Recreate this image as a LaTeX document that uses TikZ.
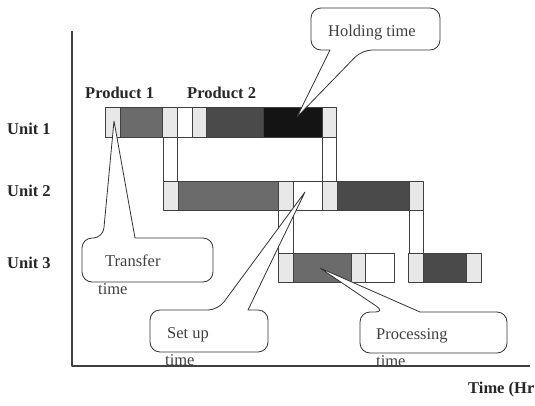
\documentclass[tikz,border=0pt]{standalone}
\usepackage{fontspec}
\setmainfont{Liberation Serif}
\usepackage{xcolor}

\begin{document}
\begin{tikzpicture}[x=1pt,y=-1pt,line join=round,
  seg/.style={draw=black!75,line width=0.8pt},
  lt/.style={seg,fill=black!9},
  pone/.style={seg,fill=black!58},
  ptwo/.style={seg,fill=black!71},
  hold/.style={seg,fill=black!92},
  idle/.style={seg,fill=white},
  bubble/.style={draw=black!80,line width=0.8pt,fill=white},
  unitlbl/.style={font=\fontsize{16.5}{18}\selectfont\bfseries,text=black!85,inner sep=0pt,anchor=base west},
  note/.style={font=\fontsize{16.5}{18}\selectfont,text=black!75,inner sep=0pt,anchor=base west}]
\useasboundingbox (0,0) rectangle (535,405);
% axes
\coordinate (ytop) at (72,31);
\coordinate (O) at (72,366);
\coordinate (xend) at (530,366);
\draw[line width=1.4pt,black!75] (ytop) -- (O) -- (xend);
% unit 1
\filldraw[lt] (105,107) rectangle (120,137);
\filldraw[pone] (120,107) rectangle (162,137);
\filldraw[lt] (162,107) rectangle (177,137);
\filldraw[idle] (177,107) rectangle (192,137);
\filldraw[lt] (192,107) rectangle (206,137);
\filldraw[ptwo] (206,107) rectangle (263,137);
\filldraw[hold] (263,107) rectangle (322,137);
\filldraw[lt] (322,107) rectangle (336,137);
% unit 2
\filldraw[lt] (163,181) rectangle (178,210);
\filldraw[pone] (178,181) rectangle (278,210);
\filldraw[lt] (278,181) rectangle (293,210);
\filldraw[idle] (293,181) rectangle (322,210);
\filldraw[lt] (322,181) rectangle (337,210);
\filldraw[ptwo] (337,181) rectangle (409,210);
\filldraw[lt] (409,181) rectangle (423,210);
% unit 3
\filldraw[lt] (278,253) rectangle (293,282);
\filldraw[pone] (293,253) rectangle (351,282);
\filldraw[lt] (351,253) rectangle (365,282);
\filldraw[idle] (365,253) rectangle (394,282);
\filldraw[lt] (408,253) rectangle (423,282);
\filldraw[ptwo] (423,253) rectangle (466,282);
\filldraw[lt] (466,253) rectangle (481,282);
% transfers between units
\draw[seg] (163,137) -- (163,181);
\draw[seg] (177,137) -- (177,181);
\draw[seg] (322,137) -- (322,181);
\draw[seg] (336,137) -- (336,181);
\draw[seg] (278,210) -- (278,253);
\draw[seg] (293,210) -- (293,253);
\draw[seg] (409,210) -- (409,253);
\draw[seg] (423,210) -- (423,253);
% callouts
\coordinate (holdtip) at (297,117);
\coordinate (transtip) at (114,121);
\coordinate (setuptip) at (305,192);
\coordinate (proctip) at (320,268);
\draw[bubble] (330,50) [rounded corners=10pt] -- (311,50) -- (311,8) -- (440,8) -- (440,50) -- (362,50) [sharp corners] -- (holdtip) -- cycle;
\draw[bubble] (135,238) [rounded corners=10pt] -- (213,238) -- (213,282) -- (82,282) -- (82,238) -- (103,238) [sharp corners] -- (transtip) -- cycle;
\draw[bubble] (248,310) [rounded corners=10pt] -- (268,310) -- (268,352) -- (150,352) -- (150,310) -- (218,310) [sharp corners] -- (setuptip) -- cycle;
\draw[bubble] (420,312) [rounded corners=10pt] -- (507,312) -- (507,353) -- (360,353) -- (360,312) -- (385,312) [sharp corners] -- (proctip) -- cycle;
\node[note] (holdtxt) at (328,36) {Holding time};
\node[note] (transtxt) at (105,266) {Transfer};
\node[note] (transtime) at (98,294) {time};
\node[note] (setuptxt) at (167,338) {Set up};
\node[note] (setuptime) at (165,365) {time};
\node[note] (proctxt) at (376,339) {Processing};
\node[note] (proctime) at (376,366) {time};
% labels
\node[unitlbl] (u1) at (7,134) {Unit 1};
\node[unitlbl] (u2) at (7,196) {Unit 2};
\node[unitlbl] (u3) at (7,268) {Unit 3};
\node[unitlbl] (p1) at (85,98) {Product 1};
\node[unitlbl] (p2) at (187,98) {Product 2};
\node[unitlbl] (tlbl) at (468,393) {Time (Hr};
\end{tikzpicture}
\end{document}
